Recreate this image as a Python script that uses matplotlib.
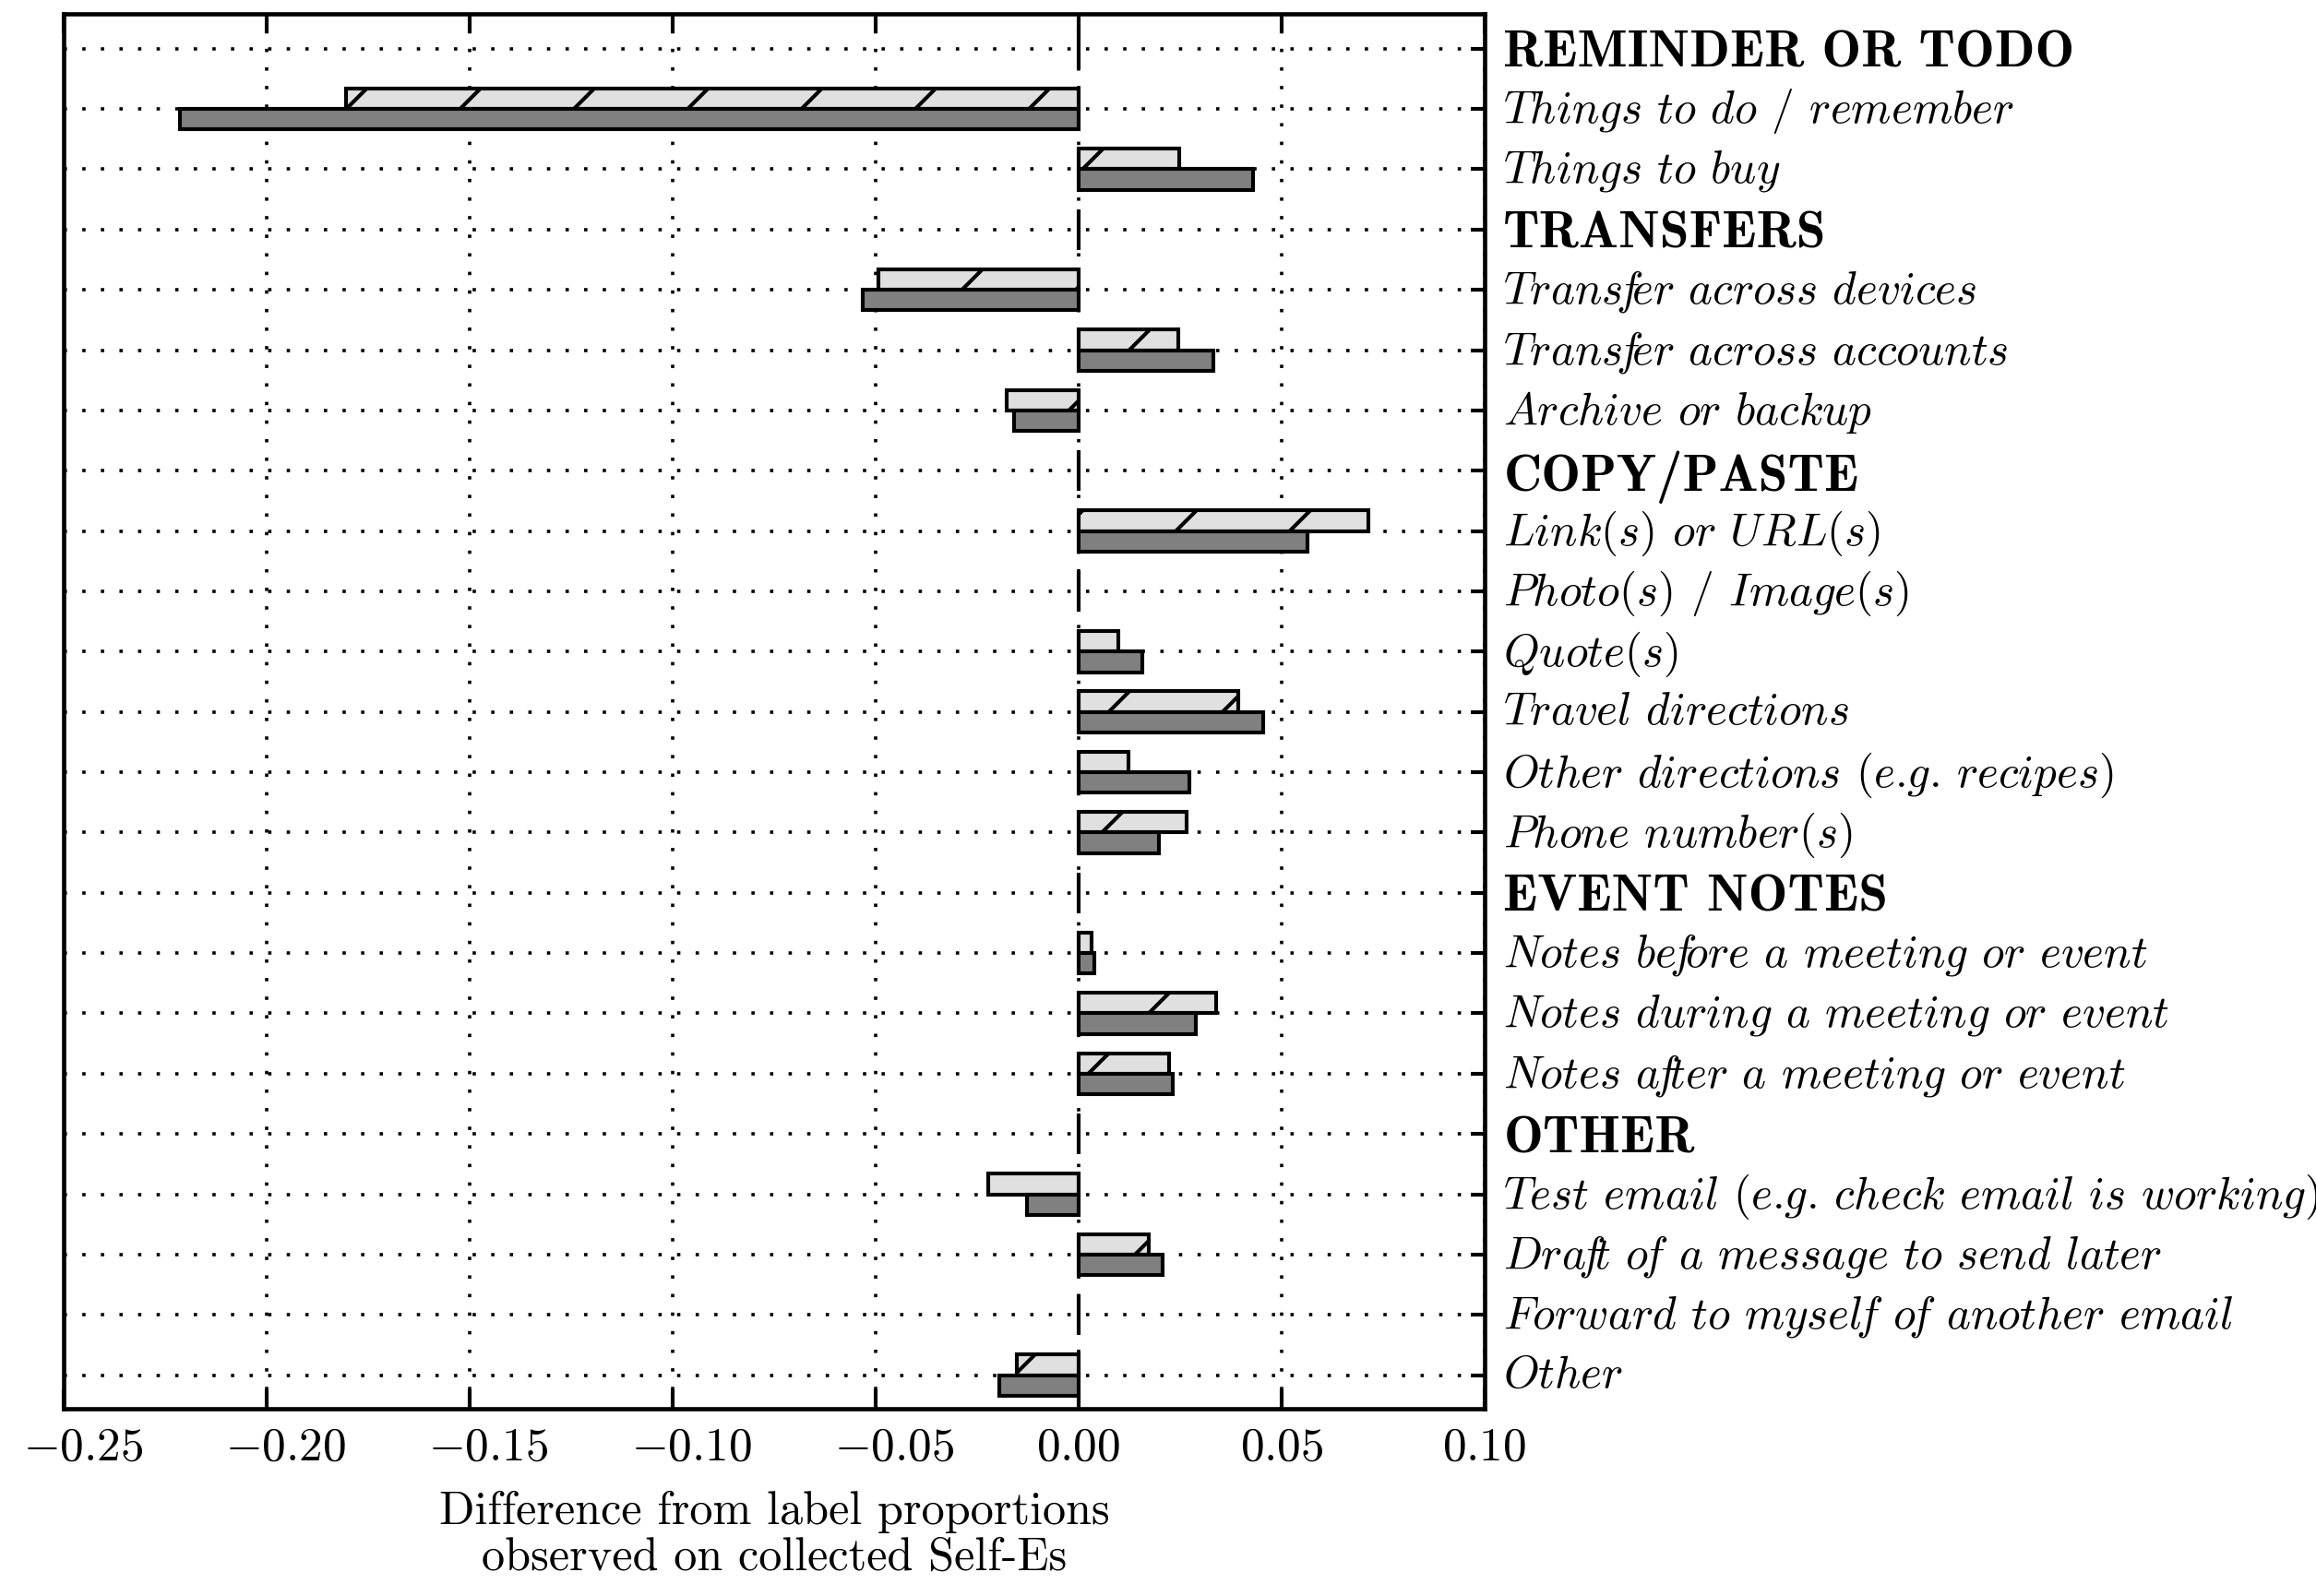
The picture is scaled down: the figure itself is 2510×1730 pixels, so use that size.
import re

import matplotlib
matplotlib.use("Agg")
import matplotlib.pyplot as plt
from matplotlib.ticker import FuncFormatter
from matplotlib.transforms import ScaledTranslation
import numpy as np

# rows top -> bottom; headers are the bold group names
LABELS = [
    "REMINDER OR TODO", "Things to do / remember", "Things to buy",
    "TRANSFERS", "Transfer across devices", "Transfer across accounts", "Archive or backup",
    "COPY/PASTE", "Link(s) or URL(s)", "Photo(s) / Image(s)", "Quote(s)", "Travel directions",
    "Other directions (e.g. recipes)", "Phone number(s)",
    "EVENT NOTES", "Notes before a meeting or event", "Notes during a meeting or event",
    "Notes after a meeting or event",
    "OTHER", "Test email (e.g. check email is working)", "Draft of a message to send later",
    "Forward to myself of another email", "Other",
]
IS_HEADER = [True, False, False, True, False, False, False, True, False, False, False, False,
             False, False, True, False, False, False, True, False, False, False, False]
# light (hatched) series and dark series
LIGHT = [0.0, -0.1806, 0.0249, 0.0, -0.0493, 0.0246, -0.0178, 0.0, 0.0714, 0.0, 0.0097, 0.0393,
         0.0123, 0.0267, 0.0, 0.0032, 0.0338, 0.0223, 0.0, -0.0223, 0.0173, 0.0, -0.0153]
DARK = [0.0, -0.2215, 0.0431, 0.0, -0.0532, 0.0333, -0.0159, 0.0, 0.0563, 0.0, 0.0156, 0.0456,
        0.0272, 0.0199, 0.0, 0.0039, 0.0290, 0.0232, 0.0, -0.0127, 0.0208, 0.0, -0.0195]
XTICKS = [-0.25, -0.20, -0.15, -0.10, -0.05, 0.00, 0.05, 0.10]
XLABEL = "Difference from label proportions\nobserved on collected Self-Es"

DPI = 740
BAR_H = 0.34

plt.rcParams.update({
    "font.family": "cmr10",
    "mathtext.fontset": "cm",
    "axes.formatter.use_mathtext": True,
    "font.size": 5,
    "hatch.linewidth": 0.4,
    "hatch.color": "black",
})


def as_italic(s):
    # words in math italic (closest thing to CM text italic we have);
    # math 'f' is too loose, so pull its neighbours in a bit
    def word(m):
        w = m.group(1)
        w = re.sub(r"(?<=[a-z])f", r"\\!f", w)
        w = re.sub(r"f(?=[a-z])", r"f\\!", w)
        return "$" + w + "$"
    return re.sub(r"([A-Za-z]+)", word, s)


def tick_fmt(x, _):
    if abs(x) < 1e-9:
        x = 0.0
    return "$%.2f$" % x


fig = plt.figure(figsize=(2510.5 / DPI, 1730.5 / DPI), dpi=DPI)
ax = fig.add_axes([0.0276, 0.1172, 0.6132, 0.8736])

pos = np.arange(len(LABELS))[::-1].astype(float)
ax.barh(pos, LIGHT, height=BAR_H, align="edge", color="#e0e0e0", edgecolor="black",
        hatch="//", linewidth=0.4, zorder=2)
ax.barh(pos - BAR_H, DARK, height=BAR_H, align="edge", color="#808080", edgecolor="black",
        linewidth=0.4, zorder=2)

ax.set_xlim(-0.25, 0.10)
ax.set_ylim(-0.56, len(LABELS) - 1 + 0.571)
ax.set_xticks(XTICKS)
ax.xaxis.set_major_formatter(FuncFormatter(tick_fmt))

ax.yaxis.tick_right()
ax.tick_params(axis="y", left=False, right=True, labelleft=False, labelright=True,
               direction="in", length=1.5, width=0.4, pad=2.0)
ax.tick_params(axis="x", top=True, bottom=True, direction="in", length=2.0, width=0.4, pad=1.9)

# negative labels sit a little to the right in the original (minus hangs out)
shift = ScaledTranslation(2.0 / 72, 0, fig.dpi_scale_trans)
for t, v in zip(ax.xaxis.get_major_ticks(), XTICKS):
    if v < 0:
        t.label1.set_transform(t.label1.get_transform() + shift)

ax.set_yticks(pos)
ax.set_yticklabels([s if h else as_italic(s) for s, h in zip(LABELS, IS_HEADER)])
nudge = ScaledTranslation(0, 0.45 / 72, fig.dpi_scale_trans)
for t, h in zip(ax.yaxis.get_major_ticks(), IS_HEADER):
    if h:
        t.label2.set_fontfamily("cmb10")
        t.label2.set_fontsize(5.55)
    else:
        t.label2.set_fontsize(4.8)
        t.label2.set_transform(t.label2.get_transform() + nudge)

ax.grid(True, color="black", linewidth=0.35, linestyle=(0, (1, 4.6)))
ax.set_axisbelow(True)
for sp in ax.spines.values():
    sp.set_linewidth(0.45)

ax.set_xlabel(XLABEL, linespacing=1.1, labelpad=2.2, fontsize=4.9)

fig.savefig("out.png", dpi=DPI)
